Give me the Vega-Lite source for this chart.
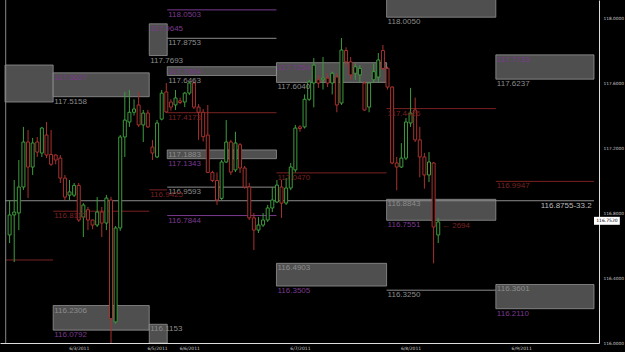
{
  "$schema": "https://vega.github.io/schema/vega-lite/v6.json",
  "width": 599,
  "height": 343,
  "autosize": {"type": "none"},
  "padding": {"left": 0, "top": 0, "right": 26, "bottom": 9},
  "background": "#000000",
  "config": {"view": {"stroke": null}},
  "datasets": {
    "zones": [
      {"t": 0, "t2": 10.45, "p": 117.483, "p2": 117.711},
      {"t": 10.45, "t2": 31.3, "p": 117.5158, "p2": 117.6627},
      {"t": 31.3, "t2": 35.2, "p": 117.7693, "p2": 117.9645},
      {"t": 35.2, "t2": 58.9, "p": 117.6463, "p2": 117.7004},
      {"t": 58.9, "t2": 82.8, "p": 117.604, "p2": 117.7254},
      {"t": 82.8, "t2": 106.5, "p": 118.005, "p2": 118.2},
      {"t": 106.5, "t2": 127.8, "p": 117.6237, "p2": 117.7733},
      {"t": 35.2, "t2": 58.9, "p": 117.1343, "p2": 117.1883},
      {"t": 82.8, "t2": 106.5, "p": 116.7551, "p2": 116.8843},
      {"t": 58.9, "t2": 82.8, "p": 116.3505, "p2": 116.4903},
      {"t": 106.5, "t2": 127.8, "p": 116.211, "p2": 116.3601},
      {"t": 10.45, "t2": 31.3, "p": 116.0792, "p2": 116.2306},
      {"t": 31.3, "t2": 35.2, "p": 116.0, "p2": 116.1153}
    ],
    "levels": [
      {"t": 35.2, "t2": 58.9, "p": 118.0503, "col": "m"},
      {"t": 35.2, "t2": 58.9, "p": 117.8753, "col": "w"},
      {"t": 35.2, "t2": 58.9, "p": 117.4173, "col": "r"},
      {"t": 35.2, "t2": 58.9, "p": 116.9593, "col": "w"},
      {"t": 31.3, "t2": 35.2, "p": 116.9425, "col": "r"},
      {"t": 10.45, "t2": 31.3, "p": 116.8112, "col": "r"},
      {"t": 35.2, "t2": 58.9, "p": 116.7844, "col": "m"},
      {"t": 58.9, "t2": 82.8, "p": 117.047, "col": "r"},
      {"t": 82.8, "t2": 106.5, "p": 117.4426, "col": "r"},
      {"t": 82.8, "t2": 106.5, "p": 116.325, "col": "w"},
      {"t": 106.5, "t2": 127.8, "p": 116.9947, "col": "r"},
      {"t": 0, "t2": 127.8, "p": 116.8755, "col": "w"},
      {"t": 0, "t2": 10.45, "p": 116.511, "col": "r"}
    ],
    "labels": [
      {"t": 10.45, "p": 117.6627, "label": "117.6627", "col": "m"},
      {"t": 10.45, "p": 117.5158, "label": "117.5158", "col": "w"},
      {"t": 31.3, "p": 117.9645, "label": "117.9645", "col": "m"},
      {"t": 31.3, "p": 117.7693, "label": "117.7693", "col": "w"},
      {"t": 35.2, "p": 118.0503, "label": "118.0503", "col": "m"},
      {"t": 35.2, "p": 117.8753, "label": "117.8753", "col": "w"},
      {"t": 35.2, "p": 117.7004, "label": "117.7004", "col": "m"},
      {"t": 35.2, "p": 117.6463, "label": "117.6463", "col": "w"},
      {"t": 35.2, "p": 117.4173, "label": "117.4173", "col": "r"},
      {"t": 35.2, "p": 117.1883, "label": "117.1883", "col": "w"},
      {"t": 35.2, "p": 117.1343, "label": "117.1343", "col": "m"},
      {"t": 35.2, "p": 116.9593, "label": "116.9593", "col": "w"},
      {"t": 31.3, "p": 116.9425, "label": "116.9425", "col": "r"},
      {"t": 10.45, "p": 116.8112, "label": "116.8112", "col": "r"},
      {"t": 35.2, "p": 116.7844, "label": "116.7844", "col": "m"},
      {"t": 58.9, "p": 117.7254, "label": "117.7254", "col": "m"},
      {"t": 58.9, "p": 117.604, "label": "117.6040", "col": "w"},
      {"t": 58.9, "p": 117.047, "label": "117.0470", "col": "r"},
      {"t": 58.9, "p": 116.4903, "label": "116.4903", "col": "w"},
      {"t": 58.9, "p": 116.3505, "label": "116.3505", "col": "m"},
      {"t": 82.8, "p": 118.005, "label": "118.0050", "col": "w"},
      {"t": 82.8, "p": 117.4426, "label": "117.4426", "col": "r"},
      {"t": 82.8, "p": 116.8843, "label": "116.8843", "col": "w"},
      {"t": 82.8, "p": 116.7551, "label": "116.7551", "col": "m"},
      {"t": 82.8, "p": 116.325, "label": "116.3250", "col": "w"},
      {"t": 106.5, "p": 117.7733, "label": "117.7733", "col": "m"},
      {"t": 106.5, "p": 117.6237, "label": "117.6237", "col": "w"},
      {"t": 106.5, "p": 116.9947, "label": "116.9947", "col": "r"},
      {"t": 106.5, "p": 116.3601, "label": "116.3601", "col": "w"},
      {"t": 106.5, "p": 116.211, "label": "116.2110", "col": "m"},
      {"t": 10.45, "p": 116.2306, "label": "116.2306", "col": "w"},
      {"t": 10.45, "p": 116.0792, "label": "116.0792", "col": "m"},
      {"t": 31.3, "p": 116.1153, "label": "116.1153", "col": "w"},
      {"t": 94.6, "p": 116.752, "label": "← 2694", "col": "r"}
    ],
    "candles": [
      {"t": 1, "o": 116.665, "c": 116.788, "h": 116.88, "l": 116.615},
      {"t": 2, "o": 116.788, "c": 116.806, "h": 117.003, "l": 116.498},
      {"t": 3, "o": 116.8, "c": 116.96, "h": 117.126, "l": 116.695},
      {"t": 4, "o": 116.96, "c": 117.237, "h": 117.33, "l": 116.942},
      {"t": 5, "o": 117.237, "c": 117.083, "h": 117.311, "l": 116.892},
      {"t": 6, "o": 117.083, "c": 117.231, "h": 117.262, "l": 117.034},
      {"t": 7, "o": 117.237, "c": 117.175, "h": 117.268, "l": 117.145},
      {"t": 8, "o": 117.169, "c": 117.323, "h": 117.33, "l": 117.145},
      {"t": 9, "o": 117.28, "c": 117.157, "h": 117.36, "l": 117.138},
      {"t": 10, "o": 117.16, "c": 117.1, "h": 117.311, "l": 117.09},
      {"t": 11, "o": 117.157, "c": 117.126, "h": 117.16, "l": 117.1},
      {"t": 12, "o": 117.138, "c": 117.015, "h": 117.157, "l": 116.985},
      {"t": 13, "o": 117.015, "c": 116.898, "h": 117.034, "l": 116.88},
      {"t": 14, "o": 116.91, "c": 116.93, "h": 117.003, "l": 116.88},
      {"t": 15, "o": 116.91, "c": 116.97, "h": 116.985, "l": 116.898},
      {"t": 16, "o": 116.97, "c": 116.757, "h": 116.985, "l": 116.745},
      {"t": 17, "o": 116.775, "c": 116.849, "h": 116.861, "l": 116.652},
      {"t": 18, "o": 116.82, "c": 116.757, "h": 116.837, "l": 116.695},
      {"t": 19, "o": 116.757, "c": 116.726, "h": 116.76, "l": 116.7},
      {"t": 20, "o": 116.726, "c": 116.806, "h": 116.898, "l": 116.714},
      {"t": 21, "o": 116.806, "c": 116.738, "h": 116.837, "l": 116.652},
      {"t": 22, "o": 116.738, "c": 116.892, "h": 116.911, "l": 116.695},
      {"t": 23, "o": 116.88, "c": 116.15, "h": 116.9, "l": 115.98},
      {"t": 24, "o": 116.13, "c": 116.708, "h": 116.72, "l": 116.12},
      {"t": 25, "o": 116.708, "c": 117.268, "h": 117.28, "l": 116.69},
      {"t": 26, "o": 117.268, "c": 117.372, "h": 117.545, "l": 117.145},
      {"t": 27, "o": 117.36, "c": 117.42, "h": 117.557, "l": 117.33},
      {"t": 28, "o": 117.42, "c": 117.44, "h": 117.5, "l": 117.4},
      {"t": 29, "o": 117.465, "c": 117.342, "h": 117.545, "l": 117.33},
      {"t": 30, "o": 117.342, "c": 117.415, "h": 117.434, "l": 117.237},
      {"t": 31, "o": 117.415, "c": 117.33, "h": 117.434, "l": 117.323},
      {"t": 32, "o": 117.206, "c": 117.169, "h": 117.25, "l": 117.126},
      {"t": 33, "o": 117.145, "c": 117.354, "h": 117.372, "l": 117.138},
      {"t": 34, "o": 117.378, "c": 117.538, "h": 117.557, "l": 117.37},
      {"t": 35, "o": 117.545, "c": 117.422, "h": 117.6, "l": 117.415},
      {"t": 36, "o": 117.483, "c": 117.452, "h": 117.5, "l": 117.43},
      {"t": 37, "o": 117.465, "c": 117.508, "h": 117.557, "l": 117.434},
      {"t": 38, "o": 117.49, "c": 117.48, "h": 117.51, "l": 117.47},
      {"t": 39, "o": 117.483, "c": 117.538, "h": 117.545, "l": 117.452},
      {"t": 40, "o": 117.538, "c": 117.6, "h": 117.606, "l": 117.526},
      {"t": 41, "o": 117.6, "c": 117.452, "h": 117.62, "l": 117.44},
      {"t": 42, "o": 117.452, "c": 117.42, "h": 117.47, "l": 117.25},
      {"t": 43, "o": 117.42, "c": 117.27, "h": 117.44, "l": 117.24},
      {"t": 44, "o": 117.28, "c": 117.05, "h": 117.465, "l": 117.046},
      {"t": 45, "o": 117.05, "c": 117.0, "h": 117.06, "l": 116.99},
      {"t": 46, "o": 117.0, "c": 116.88, "h": 117.05, "l": 116.85},
      {"t": 47, "o": 116.89, "c": 117.114, "h": 117.126, "l": 116.88},
      {"t": 48, "o": 117.114, "c": 117.237, "h": 117.372, "l": 117.108},
      {"t": 49, "o": 117.237, "c": 117.052, "h": 117.25, "l": 117.034},
      {"t": 50, "o": 117.065, "c": 117.231, "h": 117.3, "l": 117.052},
      {"t": 51, "o": 117.22, "c": 117.077, "h": 117.23, "l": 117.046},
      {"t": 52, "o": 117.077, "c": 116.96, "h": 117.09, "l": 116.95},
      {"t": 53, "o": 116.96, "c": 116.77, "h": 116.985, "l": 116.757},
      {"t": 54, "o": 116.77, "c": 116.695, "h": 116.8, "l": 116.572},
      {"t": 55, "o": 116.695, "c": 116.726, "h": 116.775, "l": 116.677},
      {"t": 56, "o": 116.726, "c": 116.757, "h": 116.8, "l": 116.714},
      {"t": 57, "o": 116.757, "c": 116.831, "h": 116.85, "l": 116.745},
      {"t": 58, "o": 116.831, "c": 116.88, "h": 116.96, "l": 116.806},
      {"t": 59, "o": 116.868, "c": 116.972, "h": 117.003, "l": 116.861},
      {"t": 60, "o": 116.96, "c": 116.861, "h": 117.003, "l": 116.77},
      {"t": 61, "o": 116.861, "c": 116.954, "h": 117.015, "l": 116.85},
      {"t": 62, "o": 116.954, "c": 117.083, "h": 117.108, "l": 116.94},
      {"t": 63, "o": 117.065, "c": 117.323, "h": 117.342, "l": 117.05},
      {"t": 64, "o": 117.33, "c": 117.32, "h": 117.34, "l": 117.3},
      {"t": 65, "o": 117.33, "c": 117.5, "h": 117.53, "l": 117.32},
      {"t": 66, "o": 117.5, "c": 117.606, "h": 117.62, "l": 117.49},
      {"t": 67, "o": 117.6, "c": 117.71, "h": 117.754, "l": 117.45},
      {"t": 68, "o": 117.62, "c": 117.6, "h": 117.65, "l": 117.57},
      {"t": 69, "o": 117.62, "c": 117.63, "h": 117.76, "l": 117.56},
      {"t": 70, "o": 117.63, "c": 117.6, "h": 117.66, "l": 117.575},
      {"t": 71, "o": 117.6, "c": 117.66, "h": 117.67, "l": 117.53},
      {"t": 72, "o": 117.637, "c": 117.465, "h": 117.66, "l": 117.42},
      {"t": 73, "o": 117.477, "c": 117.803, "h": 117.877, "l": 117.465},
      {"t": 74, "o": 117.8, "c": 117.73, "h": 117.82, "l": 117.7},
      {"t": 75, "o": 117.73, "c": 117.65, "h": 117.76, "l": 117.62},
      {"t": 76, "o": 117.66, "c": 117.7, "h": 117.72, "l": 117.62},
      {"t": 77, "o": 117.65, "c": 117.69, "h": 117.71, "l": 117.6},
      {"t": 78, "o": 117.6, "c": 117.434, "h": 117.61, "l": 117.43},
      {"t": 79, "o": 117.452, "c": 117.6, "h": 117.606, "l": 117.42},
      {"t": 80, "o": 117.62, "c": 117.67, "h": 117.72, "l": 117.6},
      {"t": 81, "o": 117.637, "c": 117.742, "h": 117.785, "l": 117.6},
      {"t": 82, "o": 117.8, "c": 117.69, "h": 117.834, "l": 117.68},
      {"t": 83, "o": 117.69, "c": 117.575, "h": 117.7, "l": 117.56},
      {"t": 84, "o": 117.575, "c": 117.108, "h": 117.58, "l": 117.1},
      {"t": 85, "o": 117.108, "c": 117.083, "h": 117.145, "l": 116.94},
      {"t": 86, "o": 117.083, "c": 117.138, "h": 117.23, "l": 117.077},
      {"t": 87, "o": 117.138, "c": 117.36, "h": 117.385, "l": 117.126},
      {"t": 88, "o": 117.354, "c": 117.415, "h": 117.57, "l": 117.33},
      {"t": 89, "o": 117.434, "c": 117.25, "h": 117.51, "l": 117.237},
      {"t": 90, "o": 117.25, "c": 117.145, "h": 117.33, "l": 117.02},
      {"t": 91, "o": 117.145, "c": 117.034, "h": 117.17, "l": 116.95},
      {"t": 92, "o": 117.034, "c": 117.114, "h": 117.175, "l": 116.99},
      {"t": 93, "o": 117.108, "c": 116.714, "h": 117.114, "l": 116.49},
      {"t": 94, "o": 116.665, "c": 116.745, "h": 116.77, "l": 116.615}
    ]
  },
  "encoding": {
    "x": {
      "field": "t", "type": "quantitative",
      "scale": {"domain": [0, 127.8], "nice": false, "zero": false},
      "axis": {
        "title": null, "grid": false, "values": [16, 33, 40, 64, 88, 112],
        "labelExpr": "datum.value == 16 ? '6/3/2011' : datum.value == 33 ? '6/5/2011' : datum.value == 40 ? '6/6/2011' : datum.value == 64 ? '6/7/2011' : datum.value == 88 ? '6/8/2011' : '6/9/2011'",
        "labelFontSize": 4.5, "labelColor": "#cccccc", "labelFont": "DejaVu Sans", "labelPadding": 2,
        "ticks": false, "domainColor": "#dddddd", "domainWidth": 1
      }
    },
    "y": {
      "field": "p", "type": "quantitative",
      "scale": {"domain": [116.0, 118.111], "nice": false, "zero": false},
      "axis": {
        "orient": "right", "title": null, "grid": false,
        "values": [116.0, 116.4, 116.8, 117.2, 117.6, 118.0], "format": ".4f",
        "labelFontSize": 4.3, "labelColor": "#cccccc", "labelFont": "DejaVu Sans", "labelPadding": 4,
        "ticks": false, "domainColor": "#dddddd", "domainWidth": 1
      }
    }
  },
  "layer": [
    {
      "data": {"name": "zones"},
      "mark": {"type": "rect", "fill": "#4f4f4f", "stroke": "#a0a0a0", "strokeWidth": 0.7, "clip": true},
      "encoding": {"x2": {"field": "t2"}, "y2": {"field": "p2"}}
    },
    {
      "data": {"name": "levels"},
      "mark": {"type": "rule", "strokeWidth": 1, "clip": true},
      "encoding": {
        "x2": {"field": "t2"},
        "color": {"field": "col", "type": "nominal", "legend": null,
          "scale": {"domain": ["w", "m", "r", "k"], "range": ["#8c8c8c", "#7a3a8e", "#7a2222", "#000000"]}}
      }
    },
    {
      "data": {"name": "candles"},
      "mark": {"type": "rule", "strokeWidth": 1, "clip": true},
      "encoding": {
        "y": {"field": "l", "type": "quantitative"},
        "y2": {"field": "h"},
        "color": {"condition": {"test": "datum.c >= datum.o", "value": "#3d9b3d"}, "value": "#a8322e"}
      }
    },
    {
      "data": {"name": "candles"},
      "mark": {"type": "bar", "size": 3, "fill": "#000000", "strokeWidth": 1, "clip": true},
      "encoding": {
        "y": {"field": "o", "type": "quantitative"},
        "y2": {"field": "c"},
        "stroke": {"condition": {"test": "datum.c >= datum.o", "value": "#3d9b3d"}, "value": "#a8322e"}
      }
    },
    {
      "data": {"name": "labels"},
      "mark": {"type": "text", "align": "left", "baseline": "top", "dx": 1, "dy": 1,
        "font": "Liberation Sans", "fontSize": 8, "clip": true},
      "encoding": {
        "text": {"field": "label"},
        "color": {"field": "col", "type": "nominal", "legend": null,
          "scale": {"domain": ["w", "m", "r", "k"], "range": ["#d8d8d8", "#a544c4", "#b3362f", "#000000"]}}
      }
    },
    {
      "data": {"values": [{"t": 127.3, "p": 116.8755, "label": "116.8755-33.2"}]},
      "mark": {"type": "text", "align": "right", "baseline": "top", "dy": 1,
        "font": "Liberation Sans", "fontSize": 8, "color": "#bbbbbb"},
      "encoding": {"text": {"field": "label"}}
    },
    {
      "data": {"values": [{"t": 0.15}]},
      "mark": {"type": "rule", "color": "#888888", "strokeWidth": 1},
      "encoding": {"y": {"value": 0}, "y2": {"value": 343}}
    },
    {
      "data": {"values": [{"t": 127.8, "t2": 133.4, "p": 116.7765, "p2": 116.7275}]},
      "mark": {"type": "rect", "fill": "#ffffff", "clip": false},
      "encoding": {"x2": {"field": "t2"}, "y2": {"field": "p2"}}
    },
    {
      "data": {"values": [{"t": 130.6, "p": 116.752, "label": "116.7520"}]},
      "mark": {"type": "text", "align": "center", "baseline": "middle", "font": "DejaVu Sans",
        "fontSize": 4.5, "color": "#000000", "clip": false},
      "encoding": {"text": {"field": "label"}}
    }
  ]
}
